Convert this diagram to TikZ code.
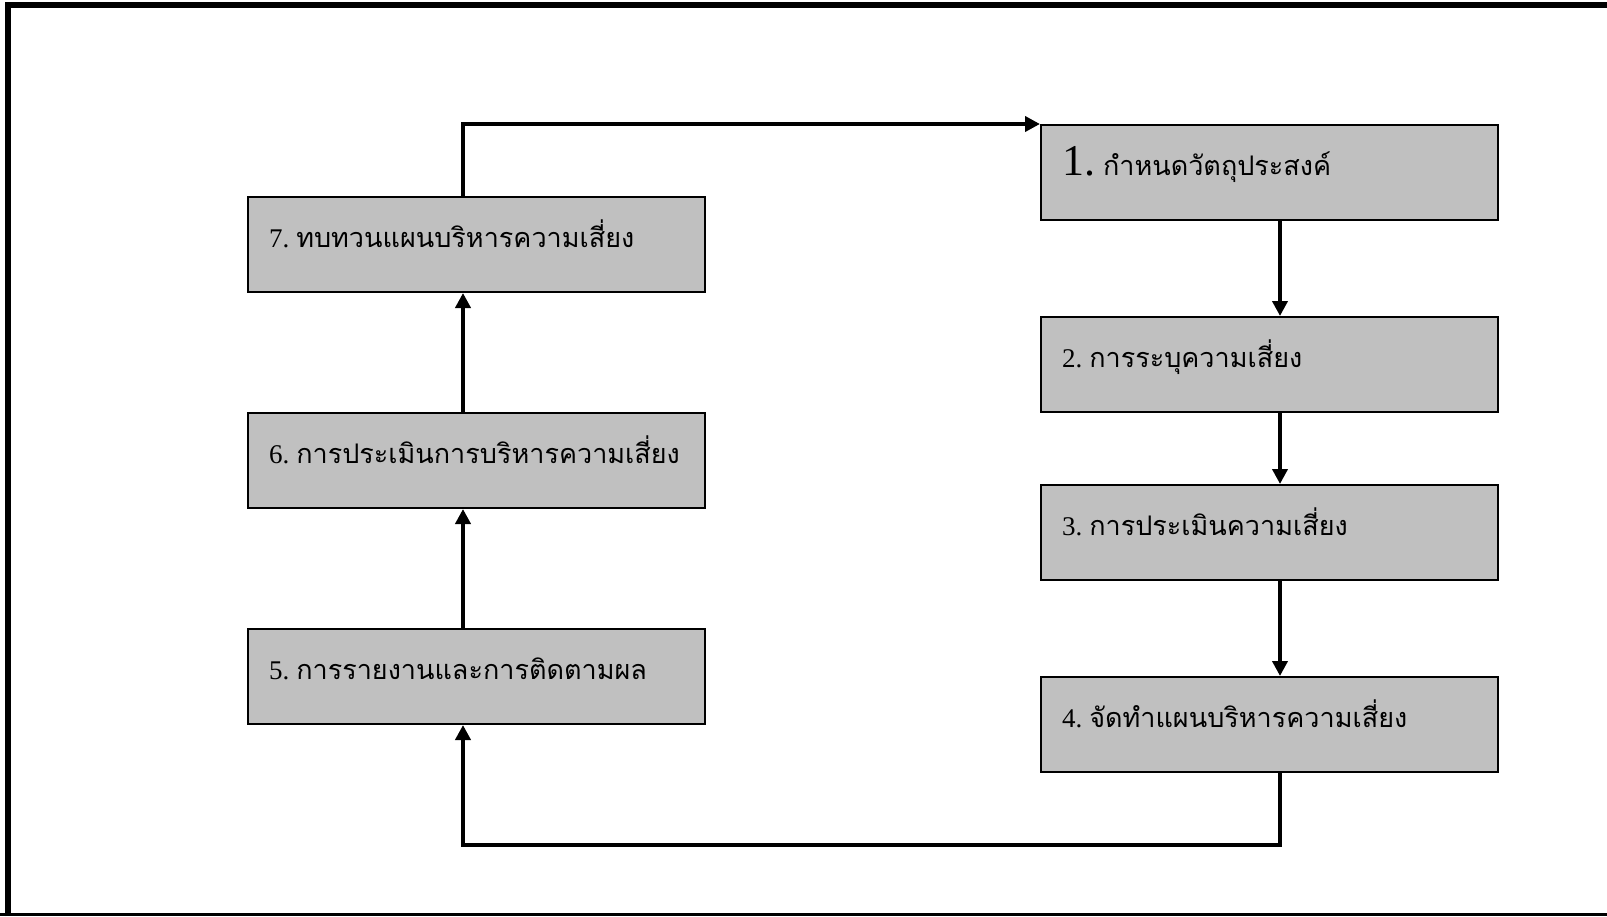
\documentclass[tikz,border=0pt]{standalone}
\usepackage{fontspec}
\setmainfont{Liberation Serif}
\newfontfamily\thaifont[Script=Thai]{Loma}
\usetikzlibrary{arrows.meta}
\definecolor{boxgray}{HTML}{C0C0C0}
\tikzset{
  riskbox/.style={draw, line width=2pt, fill=boxgray, rectangle, anchor=north west,
    inner xsep=21pt, inner ysep=0pt, text width=415pt, align=left,
    text height=50pt, text depth=45pt, font=\fontsize{27}{31}\selectfont},
  flow/.style={line width=4pt, -{Triangle[length=15pt,width=15pt]}}
}
\begin{document}
\begin{tikzpicture}[x=1pt,y=-1pt]
          \useasboundingbox (0,0) rectangle (1607,916);

          % frame
          \draw[line width=6pt] (8,916) -- (8,4.5) -- (1607,4.5);
          \draw[line width=3pt] (0,914.5) -- (1607,914.5);

          % right column
          \node[riskbox] (b1) at (1040,124) {{\fontsize{44}{48}\selectfont 1.}\hspace{8pt}{\thaifont กำหนดวัตถุประสงค์}};
          \node[riskbox] (b2) at (1040,316) {2.\hspace{7pt}{\thaifont การระบุความเสี่ยง}};
          \node[riskbox] (b3) at (1040,484) {3.\hspace{7pt}{\thaifont การประเมินความเสี่ยง}};
          \node[riskbox] (b4) at (1040,676) {4.\hspace{7pt}{\thaifont จัดทำแผนบริหารความเสี่ยง}};

          % left column
          \node[riskbox] (b7) at (247,196) {7.\hspace{7pt}{\thaifont ทบทวนแผนบริหารความเสี่ยง}};
          \node[riskbox] (b6) at (247,412) {6.\hspace{7pt}{\thaifont การประเมินการบริหารความเสี่ยง}};
          \node[riskbox] (b5) at (247,628) {5.\hspace{7pt}{\thaifont การรายงานและการติดตามผล}};

          % arrow columns
          \coordinate (colR) at (1280,0);
          \coordinate (colL) at (463,0);
          \coordinate (base) at (0,845);

          \draw[flow] (b1.south -| colR) -- (b2.north -| colR);
          \draw[flow] (b2.south -| colR) -- (b3.north -| colR);
          \draw[flow] (b3.south -| colR) -- (b4.north -| colR);
          \draw[flow] (b4.south -| colR) |- (base -| colL) -- (b5.south -| colL);
          \draw[flow] (b5.north -| colL) -- (b6.south -| colL);
          \draw[flow] (b6.north -| colL) -- (b7.south -| colL);
          \draw[flow] (b7.north -| colL) |- (b1.north west);
\end{tikzpicture}
\end{document}
